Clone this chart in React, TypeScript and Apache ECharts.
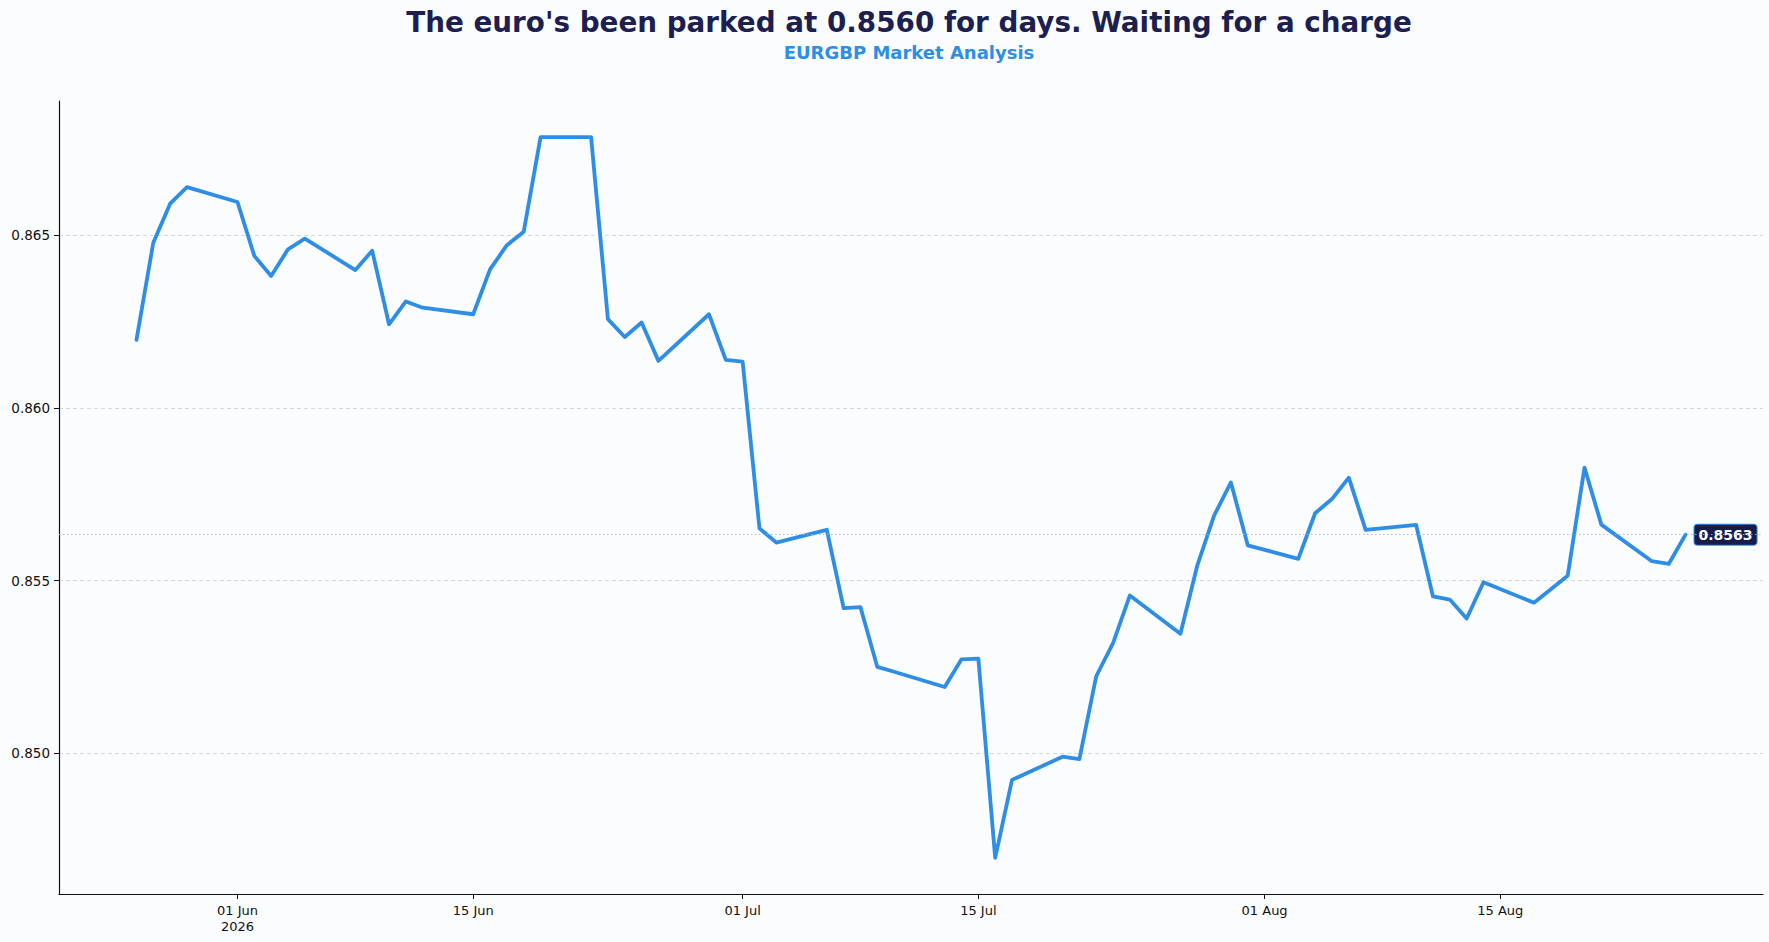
import { useEffect, useRef } from 'react';
import * as echarts from 'echarts';

const dates = [
  '2026-05-26', '2026-05-27', '2026-05-28', '2026-05-29',
  '2026-06-01', '2026-06-02', '2026-06-03', '2026-06-04', '2026-06-05',
  '2026-06-08', '2026-06-09', '2026-06-10', '2026-06-11', '2026-06-12',
  '2026-06-15', '2026-06-16', '2026-06-17', '2026-06-18', '2026-06-19',
  '2026-06-22', '2026-06-23', '2026-06-24', '2026-06-25', '2026-06-26',
  '2026-06-29', '2026-06-30', '2026-07-01', '2026-07-02', '2026-07-03',
  '2026-07-06', '2026-07-07', '2026-07-08', '2026-07-09', '2026-07-10',
  '2026-07-13', '2026-07-14', '2026-07-15', '2026-07-16', '2026-07-17',
  '2026-07-20', '2026-07-21', '2026-07-22', '2026-07-23', '2026-07-24',
  '2026-07-27', '2026-07-28', '2026-07-29', '2026-07-30', '2026-07-31',
  '2026-08-03', '2026-08-04', '2026-08-05', '2026-08-06', '2026-08-07',
  '2026-08-10', '2026-08-11', '2026-08-12', '2026-08-13', '2026-08-14',
  '2026-08-17', '2026-08-18', '2026-08-19', '2026-08-20', '2026-08-21',
  '2026-08-24', '2026-08-25', '2026-08-26',
];

const closes = [
  0.86197, 0.86478, 0.86591, 0.86639,
  0.86596, 0.8644, 0.86382, 0.86459, 0.8649,
  0.86399, 0.86455, 0.86242, 0.86308, 0.8629,
  0.86271, 0.86401, 0.86471, 0.8651, 0.86784,
  0.86784, 0.86257, 0.86205, 0.86247, 0.86136,
  0.86271, 0.86139, 0.86134, 0.85651, 0.8561,
  0.85647, 0.8542, 0.85423, 0.8525, 0.85236,
  0.85192, 0.85272, 0.85274, 0.84697, 0.84923,
  0.8499, 0.84983, 0.85223, 0.85319, 0.85457,
  0.85346, 0.85543, 0.85688, 0.85784, 0.85602,
  0.85563, 0.85695, 0.85736, 0.85798, 0.85647,
  0.85661, 0.85454, 0.85445, 0.8539, 0.85495,
  0.85436, 0.85475, 0.85514, 0.85827, 0.85662,
  0.85556, 0.85548, 0.85633,
];

const xTickDates = ['2026-06-01', '2026-06-15', '2026-07-01', '2026-07-15', '2026-08-01', '2026-08-15'];
const xTickLabels = ['01 Jun\n2026', '15 Jun', '01 Jul', '15 Jul', '01 Aug', '15 Aug'];
const yTicks = [0.85, 0.855, 0.86, 0.865];

const TITLE = "The euro's been parked at 0.8560 for days. Waiting for a charge";
const SUBTITLE = 'EURGBP Market Analysis';

const toTs = (d: string) => {
  const [y, m, day] = d.split('-').map(Number);
  return Date.UTC(y, m - 1, day);
};

export default function App() {
  const chartRef = useRef<HTMLDivElement>(null);

  useEffect(() => {
    if (!chartRef.current) return;
    const chart = echarts.init(chartRef.current, null, { renderer: 'svg' });

    const times = dates.map(toTs);
    const tMin = times[0];
    const tMax = times[times.length - 1];
    const tPad = (tMax - tMin) * 0.05;
    const vMin = Math.min(...closes);
    const vMax = Math.max(...closes);
    const vPad = (vMax - vMin) * 0.05;
    const last = closes[closes.length - 1];
    const points = times.map((t, i) => [t, closes[i]]);

    const tickTs = xTickDates.map(toTs);
    const labelFor = (v: number) => {
      const i = tickTs.findIndex((t) => Math.abs(t - v) < 1000);
      return i >= 0 ? xTickLabels[i] : '';
    };

    const font = '"DejaVu Sans", sans-serif';
    const blue = '#2e8ee6';

    const option: echarts.EChartsOption = {
      animation: false,
      backgroundColor: '#fbfcfe',
      textStyle: { fontFamily: font },
      grid: { left: 59, right: 6, top: 101, bottom: 48 },
      graphic: [
        {
          type: 'text',
          x: 909,
          y: 22,
          style: {
            text: TITLE,
            fill: '#1c1f4f',
            font: `bold 27.8px ${font}`,
            textAlign: 'center',
            textVerticalAlign: 'middle',
          },
        },
        {
          type: 'text',
          x: 909,
          y: 52,
          style: {
            text: SUBTITLE,
            fill: blue,
            font: `bold 18px ${font}`,
            textAlign: 'center',
            textVerticalAlign: 'middle',
          },
        },
      ],
      xAxis: {
        type: 'value',
        min: tMin - tPad,
        max: tMax + tPad,
        axisLine: { show: true, lineStyle: { color: '#111', width: 1.2 } },
        axisTick: {
          show: true,
          customValues: tickTs,
          length: 5,
          lineStyle: { color: '#111' },
        },
        axisLabel: {
          customValues: tickTs,
          formatter: (v: number) => labelFor(v),
          color: '#111',
          fontSize: 13,
          lineHeight: 16,
          margin: 8,
          fontFamily: font,
        },
        splitLine: { show: false },
      },
      yAxis: {
        type: 'value',
        min: vMin - vPad,
        max: vMax + vPad,
        axisLine: { show: true, lineStyle: { color: '#111', width: 1.2 } },
        axisTick: {
          show: true,
          customValues: yTicks,
          length: 5,
          lineStyle: { color: '#111' },
        },
        axisLabel: {
          customValues: yTicks,
          formatter: (v: number) => v.toFixed(3),
          color: '#111',
          fontSize: 13.5,
          margin: 9,
          fontFamily: font,
        },
        splitLine: {
          show: true,
          lineStyle: { color: '#cfd4db', type: [4, 3], width: 0.9 },
        },
      },
      series: [
        {
          // invisible carrier for the last-close reference line, drawn underneath
          type: 'line',
          data: points,
          showSymbol: false,
          symbol: 'none',
          silent: true,
          lineStyle: { opacity: 0 },
          z: 1,
          markLine: {
            silent: true,
            symbol: 'none',
            precision: 5,
            label: { show: false },
            lineStyle: { color: '#b0b5bd', type: [1.5, 2.5], width: 0.9 },
            data: [{ yAxis: last }],
          },
        },
        {
          type: 'line',
          data: points,
          showSymbol: false,
          symbol: 'none',
          lineStyle: { color: blue, width: 3.8, cap: 'round', join: 'round' },
          itemStyle: { color: blue },
          z: 3,
          endLabel: {
            show: true,
            distance: 9,
            formatter: (p: any) => Number(p.value[1]).toFixed(4),
            color: '#fff',
            fontWeight: 'bold',
            fontSize: 14,
            fontFamily: font,
            backgroundColor: '#161b4a',
            borderColor: blue,
            borderWidth: 1,
            borderRadius: 3,
            padding: [3, 4, 3, 4],
          },
        },
      ],
    };

    chart.setOption(option);

    return () => {
      chart.dispose();
    };
  }, []);

  return (
    <div
      ref={chartRef}
      style={{ position: 'fixed', left: 0, top: 0, width: 1769, height: 942 }}
    />
  );
}
